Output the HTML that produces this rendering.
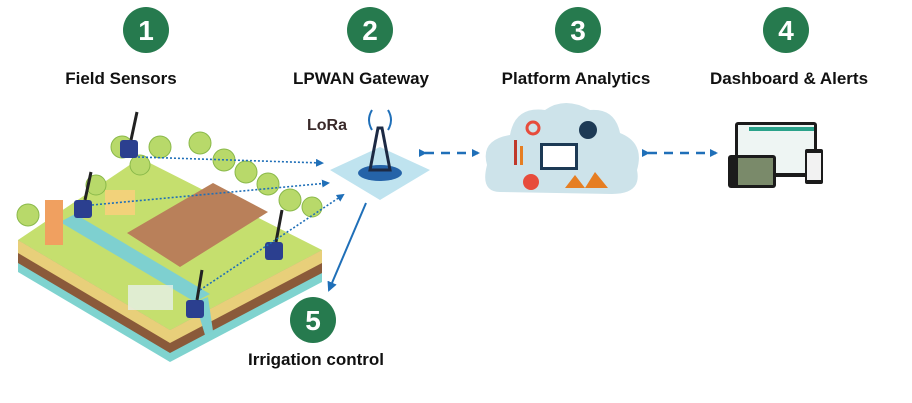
<!DOCTYPE html>
<html><head><meta charset="utf-8"><style>
html,body{margin:0;padding:0;background:#fff;}
svg{display:block;}
text{font-family:"Liberation Sans",sans-serif;font-weight:bold;}
</style></head><body>
<svg width="912" height="403" viewBox="0 0 912 403" xmlns="http://www.w3.org/2000/svg">
<defs>
<marker id="ah" markerWidth="8" markerHeight="8" refX="6" refY="4" orient="auto" markerUnits="userSpaceOnUse"><path d="M0,0 L8,4 L0,8 z" fill="#1f6fb8"/></marker>
<marker id="ah2" markerWidth="10" markerHeight="10" refX="8" refY="5" orient="auto" markerUnits="userSpaceOnUse"><path d="M0,0 L10,5 L0,10 z" fill="#1f6fb8"/></marker>
</defs>
<g fill="#267a4e">
<circle cx="146" cy="30" r="23"/><circle cx="370" cy="30" r="23"/><circle cx="578" cy="30" r="23"/><circle cx="786" cy="30" r="23"/><circle cx="313" cy="320" r="23"/>
</g>
<g fill="#fff" font-size="28" text-anchor="middle">
<text x="146" y="40">1</text><text x="370" y="40">2</text><text x="578" y="40">3</text><text x="786" y="40">4</text><text x="313" y="330">5</text>
</g>
<g fill="#111" font-size="17" text-anchor="middle">
<text x="121" y="84">Field Sensors</text><text x="361" y="84">LPWAN Gateway</text><text x="576" y="84">Platform Analytics</text><text x="789" y="84">Dashboard &amp; Alerts</text><text x="316" y="365">Irrigation control</text>
</g>
<!-- farm -->
<polygon points="18,240 170,330 170,362 18,272" fill="#7fd3cf"/>
<polygon points="170,330 322,250 322,282 170,362" fill="#7fd3cf"/>
<polygon points="18,240 170,330 170,353 18,263" fill="#8a5a3a"/>
<polygon points="170,330 322,250 322,273 170,353" fill="#8a5a3a"/>
<polygon points="18,240 170,330 170,343 18,253" fill="#e8cf7a"/>
<polygon points="170,330 322,250 322,263 170,343" fill="#e8cf7a"/>
<polygon points="18,240 140,158 322,250 170,330" fill="#c5df6e"/>
<polygon points="60,222 195,302 210,294 75,214" fill="#7ed0d0"/>
<polygon points="127,233 213,183 268,212 180,267" fill="#b9805a"/>
<polygon points="195,302 205,335 213,331 208,297" fill="#7ed0d0"/>
<rect x="128" y="285" width="45" height="25" fill="#e6f0ea" opacity=".8"/>
<g fill="#b8d96a" stroke="#8ab94a">
<circle cx="28" cy="215" r="11"/><circle cx="122" cy="147" r="11"/><circle cx="160" cy="147" r="11"/><circle cx="200" cy="143" r="11"/><circle cx="224" cy="160" r="11"/><circle cx="246" cy="172" r="11"/><circle cx="268" cy="184" r="11"/><circle cx="290" cy="200" r="11"/><circle cx="312" cy="207" r="10"/><circle cx="140" cy="165" r="10"/><circle cx="96" cy="185" r="10"/>
</g>
<rect x="45" y="200" width="18" height="45" fill="#f0a060"/>
<rect x="105" y="190" width="30" height="25" fill="#f2d27a"/>
<g fill="#2b3f8f">
<rect x="120" y="140" width="18" height="18" rx="3"/><rect x="74" y="200" width="18" height="18" rx="3"/><rect x="265" y="242" width="18" height="18" rx="3"/><rect x="186" y="300" width="18" height="18" rx="3"/>
</g>
<g stroke="#222" stroke-width="3">
<line x1="131" y1="140" x2="137" y2="112"/><line x1="85" y1="200" x2="91" y2="172"/><line x1="276" y1="242" x2="282" y2="210"/><line x1="197" y1="300" x2="202" y2="270"/>
</g>
<g stroke="#1f6fb8" stroke-width="1.6" stroke-dasharray="2,2" fill="none">
<line x1="138" y1="157" x2="322" y2="163" marker-end="url(#ah)"/>
<line x1="92" y1="205" x2="328" y2="183" marker-end="url(#ah)"/>
<line x1="200" y1="290" x2="343" y2="195" marker-end="url(#ah)"/>
</g>
<!-- gateway -->
<polygon points="330,170 380,147 430,170 380,200" fill="#bfe3ef"/>
<ellipse cx="380" cy="173" rx="22" ry="8" fill="#2563a8"/>
<path d="M370,170 L378,128 L382,128 L390,170 Z" fill="none" stroke="#1d2a44" stroke-width="3"/>
<path d="M372,130 q-6,-10 0,-20 M388,130 q6,-10 0,-20" stroke="#1f6fb8" stroke-width="2" fill="none"/>
<text x="307" y="130" font-size="16" fill="#3a2a2a">LoRa</text>
<!-- cloud -->
<path d="M500,192 Q480,192 487,165 Q480,140 510,135 Q515,106 545,110 Q565,96 590,110 Q615,108 620,133 Q645,143 637,170 Q642,194 612,194 Z" fill="#cde3ea"/>
<rect x="540" y="143" width="38" height="27" fill="#1d3a55"/><rect x="543" y="146" width="32" height="21" fill="#fff"/>
<rect x="514" y="140" width="3" height="25" fill="#c0392b"/><rect x="520" y="146" width="3" height="19" fill="#e67e22"/>
<circle cx="533" cy="128" r="6" fill="none" stroke="#e74c3c" stroke-width="3"/>
<circle cx="588" cy="130" r="9" fill="#1d3a55"/>
<circle cx="531" cy="182" r="8" fill="#e74c3c"/>
<path d="M565,188 L575,175 L585,188 L595,172 L608,188 Z" fill="#e67e22"/>
<!-- devices -->
<rect x="735" y="122" width="82" height="55" rx="3" fill="#1b1b1b"/><rect x="738" y="125" width="76" height="48" fill="#eef5f3"/>
<rect x="749" y="127" width="65" height="4" fill="#2aa28a"/>
<rect x="728" y="155" width="48" height="33" rx="3" fill="#1b1b1b"/><rect x="738" y="158" width="35" height="27" fill="#7a8a6a"/>
<rect x="805" y="149" width="18" height="35" rx="2" fill="#1b1b1b"/><rect x="807" y="153" width="14" height="27" fill="#f2f2f2"/>
<g stroke="#1f6fb8" stroke-width="2.5" stroke-dasharray="9,7" fill="none">
<line x1="425" y1="153" x2="478" y2="153" marker-end="url(#ah)" marker-start="url(#ah)"/>
<line x1="648" y1="153" x2="716" y2="153" marker-end="url(#ah)" marker-start="url(#ah)"/>
</g>
<line x1="366" y1="203" x2="329" y2="290" stroke="#1f6fb8" stroke-width="2" marker-end="url(#ah2)"/>
</svg>
</body></html>
